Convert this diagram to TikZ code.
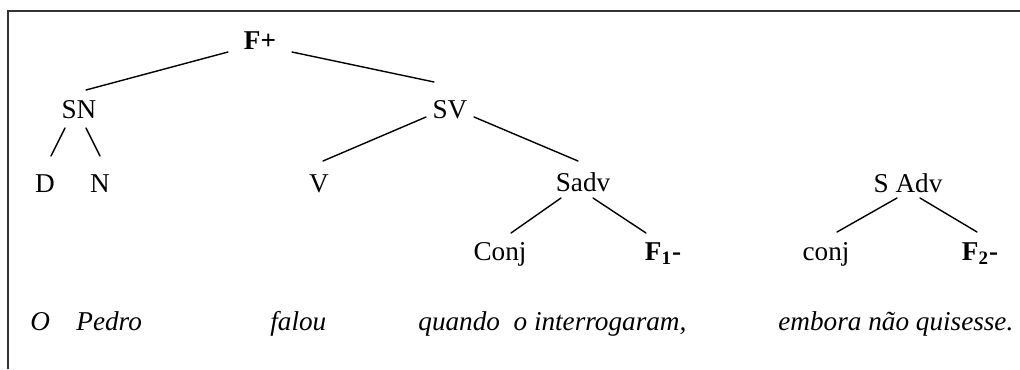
\documentclass[tikz,border=0pt]{standalone}
\usepackage{fontspec}
\setmainfont{Liberation Serif}
\usetikzlibrary{calc}
\begin{document}
\begin{tikzpicture}[x=0.5pt,y=-0.5pt,
  lbl/.style={anchor=base,inner sep=0pt,font=\fontsize{13.6}{16}\selectfont},
  wrd/.style={anchor=base west,inner sep=0pt,font=\fontsize{13.6}{16}\selectfont\itshape},
  edge/.style={line width=0.7pt,line cap=round},
  frame/.style={line width=0.7pt,draw=black!80}]
\useasboundingbox (0,0) rectangle (1020,369);
\draw[frame] (8,369) -- (8,11) -- (1020,11);

% tree labels
\node[lbl] (Fp)   at (260,50)  {\textbf{F+}};
\node[lbl] (SN)   at (79,119)  {SN};
\node[lbl] (D)    at (45,192)  {D};
\node[lbl] (N)    at (100,192) {N};
\node[lbl] (SV)   at (450,119) {SV};
\node[lbl] (V)    at (319,192) {V};
\node[lbl] (Sadv) at (583,191) {Sadv};
\node[lbl] (Conj) at (500,260) {Conj};
\node[lbl] (F1)   at (663,260) {\textbf{F\textsubscript{1}-}};
\node[lbl] (SAdv) at (908,192) {S Adv};
\node[lbl] (conj) at (826,260) {conj};
\node[lbl] (F2)   at (980,260) {\textbf{F\textsubscript{2}-}};

% sentence
\node[wrd] (w1) at (30,330)  {O};
\node[wrd] (w2) at (76,330)  {Pedro};
\node[wrd] (w3) at (270,330) {falou};
\node[wrd] (w4) at (418,330) {quando\ \ o interrogaram,};
\node[wrd] (w5) at (778,330) {embora não quisesse.};

% connectors
\draw[edge] ($(Fp.base)+(-32,2)$)   -- ($(SN.base)+(7,-29)$);
\draw[edge] ($(Fp.base)+(32,2)$)    -- ($(SV.base)+(-16,-37)$);
\draw[edge] ($(SN.base)+(-14,9)$)   -- ($(D.base)+(6,-36)$);
\draw[edge] ($(SN.base)+(7,9)$)     -- ($(N.base)+(0,-36)$);
\draw[edge] ($(SV.base)+(-24,-2)$)  -- ($(V.base)+(4,-31)$);
\draw[edge] ($(SV.base)+(24,-2)$)   -- ($(Sadv.base)+(-5,-30)$);
\draw[edge] ($(Sadv.base)+(-22,7)$) -- ($(Conj.base)+(11,-27)$);
\draw[edge] ($(Sadv.base)+(10,7)$)  -- ($(F1.base)+(-17,-27)$);
\draw[edge] ($(SAdv.base)+(-11,6)$) -- ($(conj.base)+(11,-28)$);
\draw[edge] ($(SAdv.base)+(12,6)$)  -- ($(F2.base)+(-3,-28)$);
\end{tikzpicture}
\end{document}
